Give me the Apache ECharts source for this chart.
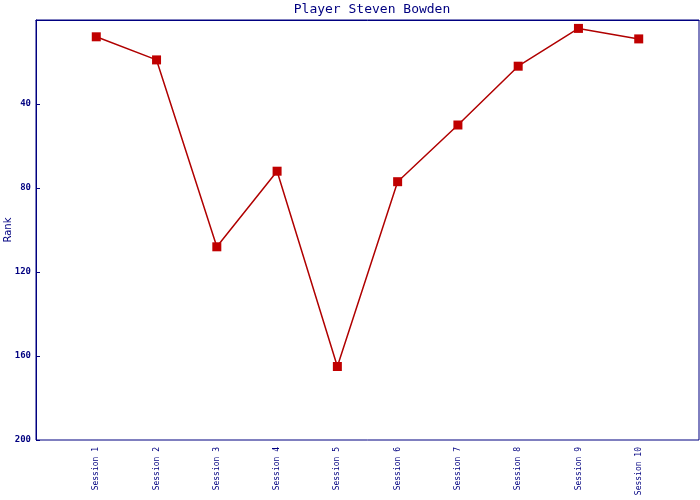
<!DOCTYPE html>
<html><head><meta charset="utf-8">
<script src="https://cdn.jsdelivr.net/npm/echarts@6/dist/echarts.min.js"></script>
<style>html,body{margin:0;padding:0;background:#fff}#c{width:700px;height:500px}</style>
</head><body><div id="c"></div>
<script>
const sessions = ['Session 1','Session 2','Session 3','Session 4','Session 5','Session 6','Session 7','Session 8','Session 9','Session 10'];
const ranks = [8, 19, 108, 72, 165, 77, 50, 22, 4, 9];
const yTicks = [0, 40, 80, 120, 160, 200];

const axisCats = [''].concat(sessions, ['']);
const seriesData = [null].concat(ranks, [null]);
const navy = '#000080';
const mono = '"DejaVu Sans Mono", "Liberation Mono", monospace';

const chart = echarts.init(document.getElementById('c'), null, {renderer: 'canvas'});
chart.setOption({
  animation: false,
  backgroundColor: '#ffffff',
  title: {
    text: 'Player Steven Bowden',
    left: 367, top: -2, textAlign: 'center',
    textStyle: {fontFamily: mono, fontSize: 13, fontWeight: 'normal', color: navy}
  },
  grid: {left: 36, top: 20, right: 1, bottom: 60, show: true, borderColor: navy, borderWidth: 1, containLabel: false, outerBoundsMode: 'none'},
  xAxis: {
    type: 'category', data: axisCats, boundaryGap: false,
    axisLine: {show: true, lineStyle: {color: navy, width: 1}},
    axisTick: {show: false},
    splitLine: {show: false},
    axisLabel: {rotate: 90, interval: 0, margin: 7, color: navy, fontFamily: mono, fontSize: 8}
  },
  yAxis: {
    type: 'value', inverse: true, min: yTicks[0], max: yTicks[yTicks.length-1], interval: 40,
    name: 'Rank', nameLocation: 'middle', nameGap: 23, nameRotate: 90, nameMoveOverlap: false,
    nameTextStyle: {color: navy, fontFamily: '"DejaVu Sans", sans-serif', fontSize: 10},
    axisLine: {show: true, lineStyle: {color: navy, width: 1}},
    axisTick: {show: true, inside: true, length: 4, lineStyle: {color: navy}},
    splitLine: {show: false},
    axisLabel: {showMinLabel: false, color: navy, fontFamily: mono, fontSize: 9, fontWeight: 'bold', margin: 5}
  },
  series: [{
    type: 'line', data: seriesData,
    symbol: 'rect', symbolSize: 9,
    itemStyle: {color: '#c00000'},
    lineStyle: {color: '#b00000', width: 1.5}
  }]
});
</script></body></html>
